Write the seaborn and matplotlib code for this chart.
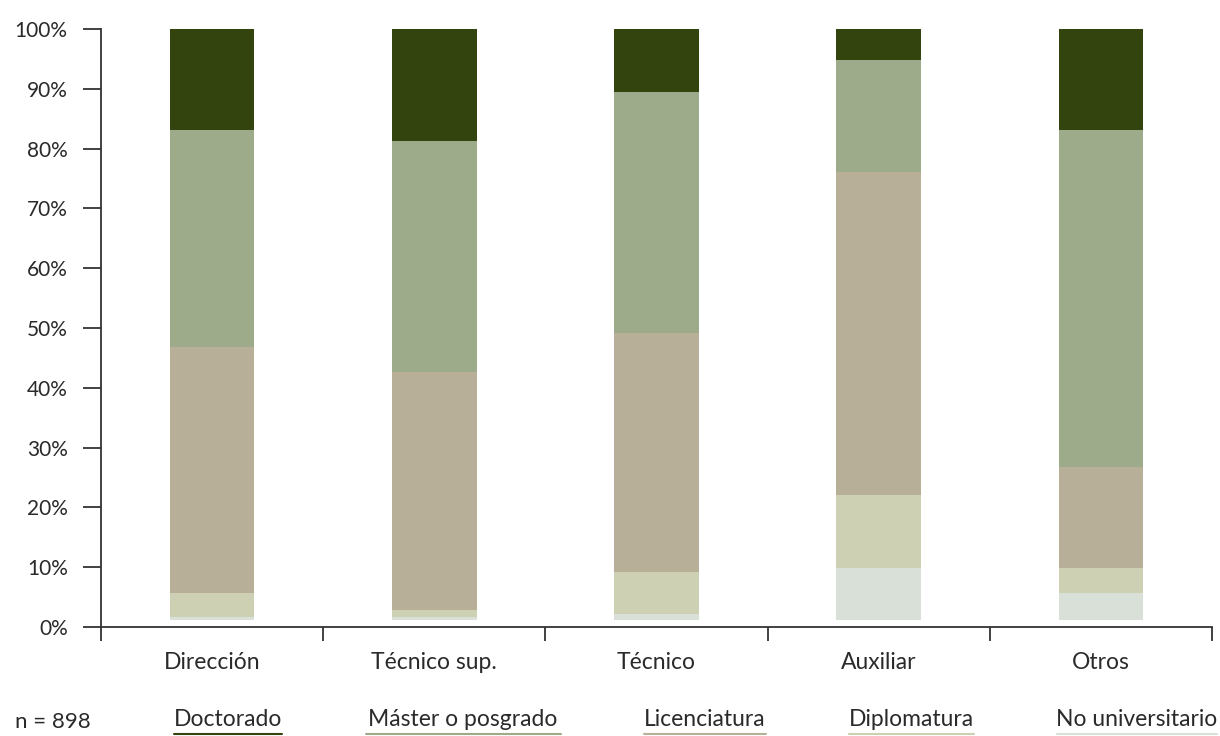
import numpy as np
import pandas as pd
import seaborn as sns
import matplotlib.pyplot as plt
from matplotlib.lines import Line2D

categorias = ['Dirección', 'Técnico sup.', 'Técnico', 'Auxiliar', 'Otros']
# porcentaje por nivel de estudios (de abajo a arriba); "sin_dato" es el hueco blanco de la base
sin_dato = [1.2, 1.2, 1.2, 1.2, 1.2]
no_universitario = [0.5, 0.5, 1.0, 8.7, 4.5]
diplomatura = [4.0, 1.1, 7.0, 12.2, 4.2]
licenciatura = [41.1, 39.8, 40.0, 54.0, 16.9]
master = [36.3, 38.7, 40.3, 18.7, 56.3]
doctorado = [16.9, 18.7, 10.5, 5.2, 16.9]

niveles = ['Doctorado', 'Máster o posgrado', 'Licenciatura', 'Diplomatura', 'No universitario']
colores = {'Doctorado': '#34440f', 'Máster o posgrado': '#9dab8b', 'Licenciatura': '#b7af97',
           'Diplomatura': '#cdd0b3', 'No universitario': '#d9e0d7', 'sin_dato': '#ffffff'}
n_total = 898

sns.set_style('white')
plt.rcParams['font.family'] = ['Lato', 'DejaVu Sans']
plt.rcParams['text.color'] = '#2a2a2a'
plt.rcParams['xtick.color'] = '#333333'
plt.rcParams['ytick.color'] = '#333333'
plt.rcParams['xtick.labelcolor'] = '#2a2a2a'
plt.rcParams['ytick.labelcolor'] = '#2a2a2a'

capas = [('sin_dato', sin_dato), ('No universitario', no_universitario), ('Diplomatura', diplomatura),
         ('Licenciatura', licenciatura), ('Máster o posgrado', master), ('Doctorado', doctorado)]
acumulado = np.cumsum([np.array(v) for _, v in capas], axis=0)

fig = plt.figure(figsize=(12.2, 7.36), dpi=100)
ax = fig.add_axes([0.0828, 0.1481, 0.9106, 0.8125])

# de arriba a abajo para que cada capa tape la anterior
for i in range(len(capas) - 1, -1, -1):
    nombre = capas[i][0]
    df = pd.DataFrame({'cat': categorias, 'val': acumulado[i]})
    sns.barplot(data=df, x='cat', y='val', color=colores[nombre], width=0.38,
                saturation=1, ax=ax, linewidth=0)

ax.set_xlim(-0.5, 4.5)
ax.set_ylim(0, 100)
ax.set_yticks(range(0, 101, 10))
ax.set_yticklabels([f'{v}%' for v in range(0, 101, 10)], fontsize=15)
ax.set_xticks(np.arange(-0.5, 5, 1))
ax.set_xticklabels([])
ax.set_xticks(range(5), minor=True)
ax.set_xticklabels(categorias, minor=True, fontsize=16.5)
ax.tick_params(axis='x', which='major', bottom=True, length=10, width=1.3, direction='out')
ax.tick_params(axis='x', which='minor', bottom=True, length=0, pad=18)
ax.tick_params(axis='y', left=True, length=13, width=1.3, direction='out', pad=11)
ax.set_xlabel('')
ax.set_ylabel('')
for s in ['top', 'right']:
    ax.spines[s].set_visible(False)
for s in ['left', 'bottom']:
    ax.spines[s].set_color('#333333')
    ax.spines[s].set_linewidth(1.3)

# leyenda: texto con subrayado del color de la serie
fig.text(15 / 1220, 1 - 722 / 736, f'n = {n_total}', fontsize=16, va='center', ha='left')
centros = [228, 463, 705, 911, 1137]
anchos = [108, 195, 122, 125, 160]
for nombre, cx, w in zip(niveles, centros, anchos):
    fig.text(cx / 1220, 1 - 720 / 736, nombre, fontsize=16.5, va='center', ha='center')
    fig.add_artist(Line2D([(cx - w / 2) / 1220, (cx + w / 2) / 1220], [1 - 734 / 736, 1 - 734 / 736],
                          color=colores[nombre], linewidth=1.5, transform=fig.transFigure))

fig.savefig('out.png', dpi=100)
